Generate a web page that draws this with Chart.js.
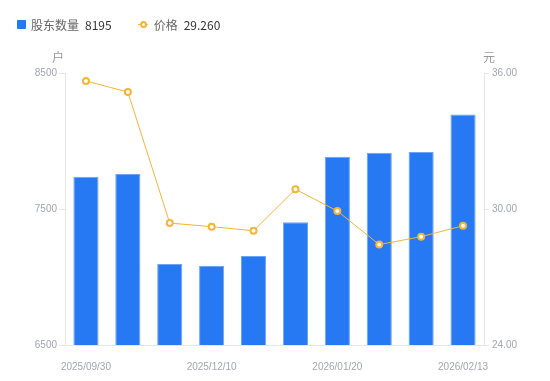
<!DOCTYPE html>
<html>
<head>
<meta charset="utf-8">
<script src="https://cdn.jsdelivr.net/npm/chart.js@4.4.1/dist/chart.umd.min.js"></script>
<style>
  html, body { margin: 0; padding: 0; background: #fff; }
  #wrap { position: relative; width: 550px; height: 381px; }
  #legend { position: absolute; left: 17px; top: 16px; font-family: "Noto Sans CJK SC", "Noto Sans", sans-serif; font-size: 12px; color: #666; display: flex; align-items: center; }
  .item { display: flex; align-items: center; margin-right: 26px; }
  .sq { width: 9px; height: 9px; background: #2778f3; border-radius: 1px; margin-right: 5px; }
  .ln { position: relative; width: 10px; height: 9px; margin-right: 6px; }
  .ln:before { content: ""; position: absolute; left: 0; right: 0; top: 4px; height: 1px; background: #f7b437; }
  .ln:after { content: ""; position: absolute; left: 2px; top: 1px; width: 3px; height: 3px; border: 2px solid #f7b437; border-radius: 50%; background: #fff; }
  .val { color: #333; margin-left: 6px; }
</style>
</head>
<body>
<div id="wrap">
  <canvas id="c" width="550" height="381"></canvas>
  <div id="legend">
    <div class="item"><span class="sq"></span>股东数量<span class="val">8195</span></div>
    <div class="item"><span class="ln"></span>价格<span class="val">29.260</span></div>
  </div>
</div>
<script>
const dates = ['2025/09/30', '2025/10/20', '2025/10/31', '2025/12/10', '2025/12/20', '2025/12/31', '2026/01/20', '2026/01/30', '2026/02/10', '2026/02/13'];
const holders = [7737, 7757, 7096, 7081, 7154, 7402, 7885, 7914, 7919, 8195];
const prices = [35.65, 35.16, 29.38, 29.22, 29.04, 30.87, 29.91, 28.43, 28.78, 29.26];
const leftTicks = [6500, 7500, 8500];
const rightTicks = [24, 30, 36];

const tickColor = '#a3a6b0';
const lineColor = '#e6e6e6';

const axisTitles = {
  id: 'axisTitles',
  afterDraw(chart) {
    const ctx = chart.ctx;
    ctx.save();
    ctx.font = '12px "Noto Sans CJK SC", sans-serif';
    ctx.fillStyle = '#999';
    ctx.textAlign = 'center';
    ctx.textBaseline = 'middle';
    ctx.fillText('户', chart.scales.y.right - 7, 57);
    ctx.fillText('元', chart.scales.y1.left + 5, 57);
    ctx.restore();
  }
};

new Chart(document.getElementById('c'), {
  data: {
    labels: dates,
    datasets: [
      {
        type: 'line',
        label: '价格',
        data: prices,
        yAxisID: 'y1',
        borderColor: '#f7b437',
        borderWidth: 1,
        pointRadius: 3,
        pointBorderWidth: 2,
        pointBackgroundColor: '#fff',
        pointBorderColor: '#f7b437',
        tension: 0,
        order: 0
      },
      {
        type: 'bar',
        label: '股东数量',
        data: holders,
        yAxisID: 'y',
        backgroundColor: '#2778f3',
        borderColor: '#6ea2f6',
        borderWidth: { top: 1, left: 1, right: 1, bottom: 0 },
        barPercentage: 0.6,
        categoryPercentage: 1,
        order: 1
      }
    ]
  },
  options: {
    responsive: false,
    animation: false,
    layout: { padding: { top: 73, left: 0, right: 0, bottom: 0 } },
    plugins: { legend: { display: false }, tooltip: { enabled: false } },
    scales: {
      x: {
        grid: { display: false },
        border: { display: true, color: lineColor },
        afterFit: (s) => { s.height = 36; },
        ticks: {
          autoSkip: false,
          maxRotation: 0,
          padding: 8,
          color: tickColor,
          font: { size: 10 },
          callback: function(v, i) { return i % 3 === 0 ? dates[i] : ''; }
        }
      },
      y: {
        position: 'left',
        min: 6500,
        max: 8500,
        afterFit: (s) => { s.width = 65; },
        afterBuildTicks: (s) => { s.ticks = leftTicks.map(v => ({ value: v })); },
        grid: { drawOnChartArea: false, tickLength: 6, color: lineColor },
        border: { display: true, color: lineColor },
        ticks: { color: tickColor, font: { size: 10 }, padding: 2, callback: (v) => String(v) }
      },
      y1: {
        position: 'right',
        min: 24,
        max: 36,
        afterFit: (s) => { s.width = 66; },
        afterBuildTicks: (s) => { s.ticks = rightTicks.map(v => ({ value: v })); },
        grid: { drawOnChartArea: false, tickLength: 5, color: lineColor },
        border: { display: true, color: lineColor },
        ticks: { color: tickColor, font: { size: 10 }, padding: 3, callback: (v) => Number(v).toFixed(2) }
      }
    }
  },
  plugins: [axisTitles]
});
</script>
</body>
</html>
